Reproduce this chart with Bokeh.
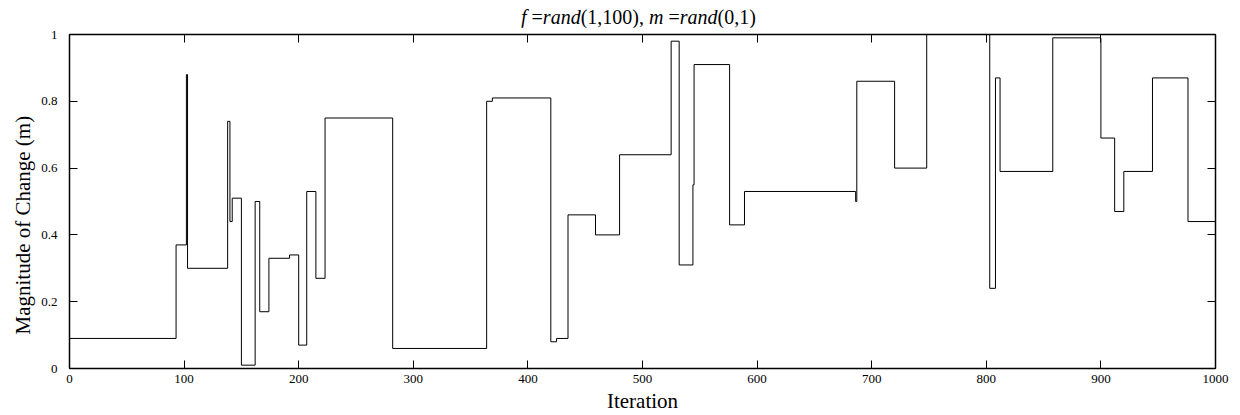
from bokeh.plotting import figure
from bokeh.models import Range1d, LinearAxis, FixedTicker, Title, Div
from bokeh.layouts import column
from bokeh.embed import file_html
from bokeh.resources import INLINE

# iteration at which each new value of m starts, and that value
change_iter = [0, 93, 102, 103, 138, 140, 142, 150, 162, 166, 174, 192, 200, 207, 215,
               223, 282, 364, 369, 420, 425, 435, 459, 480, 525, 532, 544, 545, 576,
               589, 686, 687, 720, 748, 803, 808, 812, 858, 900, 912, 920, 945, 976, 1000]
magnitude = [0.09, 0.37, 0.88, 0.30, 0.74, 0.44, 0.51, 0.01, 0.50, 0.17, 0.33, 0.34, 0.07,
             0.53, 0.27, 0.75, 0.06, 0.80, 0.81, 0.08, 0.09, 0.46, 0.40, 0.64, 0.98, 0.31,
             0.55, 0.91, 0.43, 0.53, 0.50, 0.86, 0.60, 1.00, 0.24, 0.87, 0.59, 0.99, 0.69,
             0.47, 0.59, 0.87, 0.44, 0.21]

x_ticks = [0, 100, 200, 300, 400, 500, 600, 700, 800, 900, 1000]
y_ticks = [0, 0.2, 0.4, 0.6, 0.8, 1.0]
y_tick_labels = ["0", "0.2", "0.4", "0.6", "0.8", "1"]

title_html = "<i>f</i> =<i>rand</i>(1,100), <i>m</i> =<i>rand</i>(0,1)"

FONT = "Liberation Serif"
W, H = 1240, 415
TITLE_H = 27

# ---------- title strip ----------
title_div = Div(text=title_html, width=W, height=TITLE_H,
                styles={"text-align": "left", "padding-left": "521px",
                        "font-family": FONT, "font-size": "20px",
                        "line-height": "20px", "padding-top": "7px",
                        "color": "black", "margin": "0", "white-space": "nowrap"})

# ---------- main plot ----------
p = figure(width=W, height=H - TITLE_H, x_range=Range1d(0, 1000), y_range=Range1d(0, 1),
           output_backend="svg", toolbar_location=None, title=None,
           min_border_left=69, min_border_right=25, min_border_top=7, min_border_bottom=45)

p.step(x=change_iter, y=magnitude, mode="after", line_color="black", line_width=1)

p.xgrid.visible = False
p.ygrid.visible = False
p.outline_line_color = "black"
p.outline_line_width = 1

def style_axis(ax, show_labels=True):
    ax.axis_line_color = "black"
    ax.axis_line_width = 1.5
    ax.major_tick_in = 8
    ax.major_tick_out = 0
    ax.minor_tick_line_color = None
    ax.major_tick_line_color = "black"
    ax.major_tick_line_width = 1
    ax.major_label_text_font = FONT
    ax.major_label_text_font_size = "13px" if show_labels else "0px"
    ax.major_label_text_color = "black" if show_labels else None
    if not show_labels:
        ax.major_label_standoff = 0
    ax.axis_label_text_font = FONT
    ax.axis_label_text_font_style = "normal"
    ax.axis_label_text_font_size = "21px"
    ax.axis_label_text_color = "black"

xa = p.xaxis[0]
xa.ticker = FixedTicker(ticks=x_ticks)
xa.axis_label = "Iteration"
style_axis(xa)
xa.major_label_standoff = 6
xa.axis_label_standoff = 3

ya = p.yaxis[0]
ya.ticker = FixedTicker(ticks=y_ticks)
ya.major_label_overrides = {t: l for t, l in zip(y_ticks, y_tick_labels)}
style_axis(ya)
ya.major_label_standoff = 12

ytitle = Title(text="Magnitude of Change (m)", align="left", offset=34,
               text_font=FONT, text_font_size="21px", text_font_style="normal",
               text_color="black", standoff=8)
p.add_layout(ytitle, "left")

top = LinearAxis(ticker=FixedTicker(ticks=x_ticks))
style_axis(top, show_labels=False)
p.add_layout(top, "above")
right = LinearAxis(ticker=FixedTicker(ticks=y_ticks))
style_axis(right, show_labels=False)
p.add_layout(right, "right")

layout = column(title_div, p, spacing=0)
open("out.html", "w").write(file_html(layout, INLINE))
